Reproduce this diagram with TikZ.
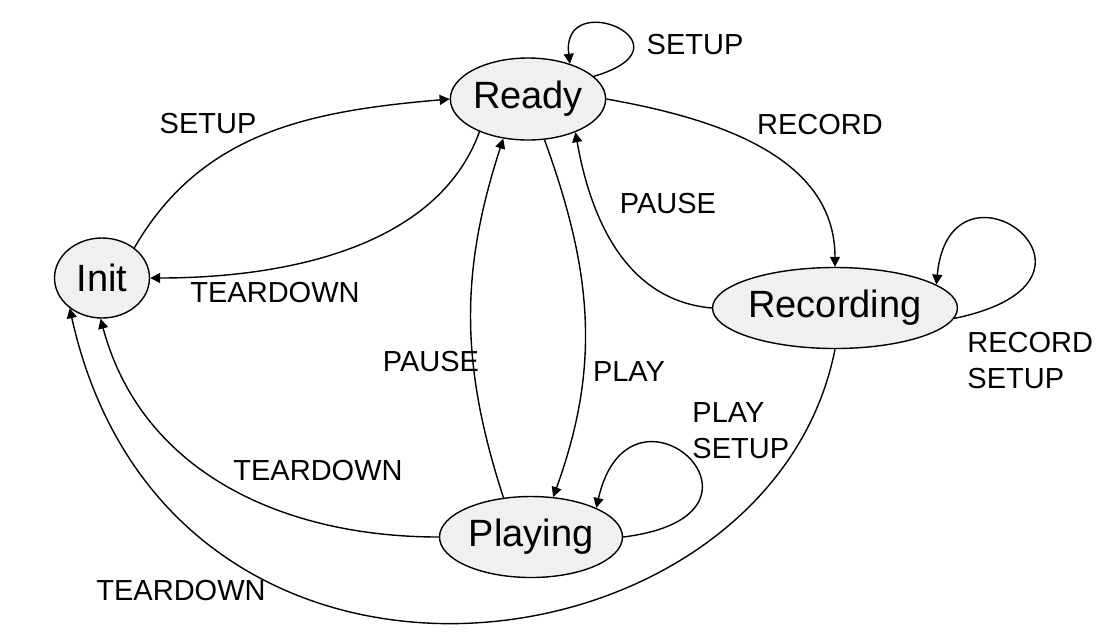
\documentclass[tikz,border=0pt]{standalone}
\usepackage{fontspec}
\setmainfont{Liberation Sans}
\usetikzlibrary{shapes.geometric,arrows.meta}

\begin{document}
\begin{tikzpicture}[x=0.5pt, y=0.5pt,
		state/.style={ellipse, draw, line width=0.7pt, fill=black!6, inner sep=0pt, font=\fontsize{19}{22}\selectfont},
		edge/.style={-{Triangle[length=5pt,width=5pt]}, line width=0.7pt},
		lbl/.style={inner sep=0pt, font=\fontsize{14.5}{18}\selectfont} ]
		\useasboundingbox (0,0) rectangle (1103,-634);
		\node[state, minimum width=47.5pt, minimum height=40pt] (init) at (102,-278) {Init};
		\node[state, minimum width=77.5pt, minimum height=41pt] (ready) at (528,-99) {Ready};
		\node[state, minimum width=120pt, minimum height=40.5pt] (recording) at (835,-308) {Recording};
		\node[state, minimum width=91.5pt, minimum height=40.5pt] (playing) at (531,-537) {Playing};

		\draw[edge] (init.43) to[out=60, in=185] (ready.180);
		\draw[edge] (ready.214) to[out=-110, in=0, looseness=0.9] (init.0);
		\draw[edge] (ready.19) .. controls (700,-45) and (560,15) .. (ready.40);
		\draw[edge] (ready.0) to[out=-10, in=90] (recording.90);
		\draw[edge] (recording.180) to[out=175, in=-80] (ready.325);
		\draw[edge] (recording.355) .. controls (1140,-280) and (950,-140) .. (recording.13);
		\draw[edge] (ready.292) to[out=-70, in=70] (playing.61);
		\draw[edge] (playing.125) to[out=108, in=-108] (ready.238);
		\draw[edge] (playing.0) .. controls (800,-515) and (630,-360) .. (playing.24);
		\draw[edge] (playing.180) to[out=180, in=-75] (init.268);
		\draw[edge] (recording.270) .. controls (770,-680) and (170,-760) .. (init.223);

		\node[lbl] (setupA) at (208,-124) {SETUP};
		\node[lbl] (teardownA) at (275,-293) {TEARDOWN};
		\node[lbl] (setupB) at (695,-45) {SETUP};
		\node[lbl] (recordA) at (820,-125) {RECORD};
		\node[lbl] (pauseA) at (668,-204) {PAUSE};
		\node[lbl, align=left, anchor=west] (recordB) at (967,-361) {RECORD\\SETUP};
		\node[lbl] (pauseB) at (431,-362) {PAUSE};
		\node[lbl] (playA) at (629,-372) {PLAY};
		\node[lbl, align=left, anchor=west] (playB) at (692,-431) {PLAY\\SETUP};
		\node[lbl] (teardownB) at (318,-471) {TEARDOWN};
		\node[lbl] (teardownC) at (181,-591) {TEARDOWN};
	\end{tikzpicture}
\end{document}
